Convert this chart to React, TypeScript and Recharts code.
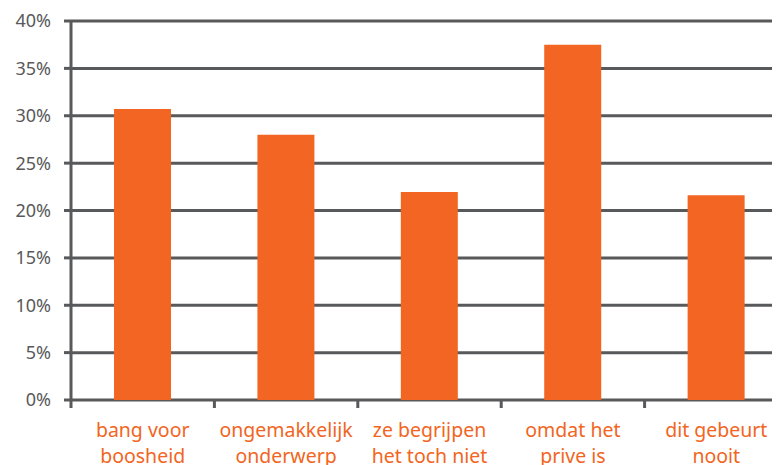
import React from 'react';
import { BarChart, Bar, XAxis, YAxis, CartesianGrid } from 'recharts';

const categories = ['bang voor\nboosheid', 'ongemakkelijk\nonderwerp', 'ze begrijpen\nhet toch niet', 'omdat het\nprive is', 'dit gebeurt\nnooit'];
const values = [30.7, 28.0, 21.95, 37.5, 21.6];
const yTicks = [0, 5, 10, 15, 20, 25, 30, 35, 40];

const data = categories.map((c, i) => ({ name: c, value: values[i] }));

const GRID = '#58595B';
const ORANGE = '#F26522';
const FONT = '"Noto Sans", sans-serif';

const XTick = (props: any) => {
  const { x, y, payload } = props;
  const lines = String(payload.value).split('\n');
  const half = payload.offset ?? 0;
  return (
    <g>
      <line x1={x - half} x2={x - half} y1={y - 1} y2={y + 8} stroke={GRID} strokeWidth={3} />
      <text x={x} y={y + 37} textAnchor="middle" fill={ORANGE} fontSize={19.5} fontFamily={FONT}>
        {lines.map((l, i) => (
          <tspan key={i} x={x} dy={i === 0 ? 0 : 25.5}>{l}</tspan>
        ))}
      </text>
    </g>
  );
};

export default function App() {
  return (
    <div style={{ width: 772, height: 457, overflow: 'hidden' }}>
      <BarChart width={790} height={457} data={data} margin={{ top: 13, right: 10, bottom: 0, left: 0 }} barCategoryGap="30%">
        <CartesianGrid vertical={false} stroke={GRID} strokeWidth={3} />
        <XAxis dataKey="name" height={65} axisLine={false} tickLine={false} tickSize={0} tickMargin={0} tick={<XTick />} interval={0} />
        <YAxis
          width={63}
          domain={[0, 40]}
          ticks={yTicks}
          interval={0}
          tickFormatter={(v: number) => `${v}%`}
          axisLine={{ stroke: GRID, strokeWidth: 3 }}
          tickLine={{ stroke: GRID, strokeWidth: 3 }}
          tickSize={7}
          tickMargin={13}
          tick={{ fill: '#595959', fontSize: 18, fontFamily: FONT }}
        />
        <Bar dataKey="value" fill="#F36523" isAnimationActive={false} />
      </BarChart>
    </div>
  );
}
